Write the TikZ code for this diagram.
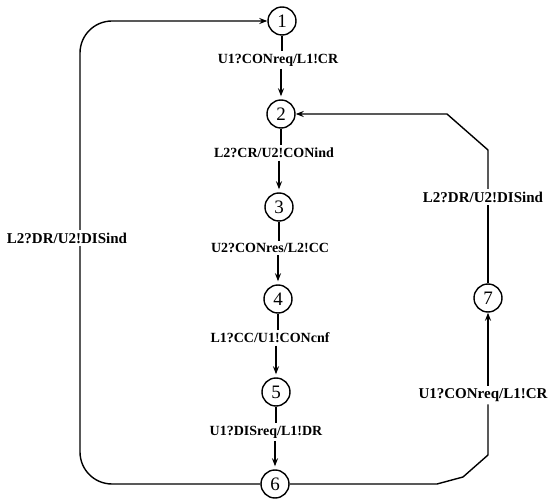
\documentclass[tikz,border=0pt]{standalone}
\usepackage{fontspec}
\setmainfont{Liberation Serif}
\usetikzlibrary{arrows.meta}
\begin{document}
\begin{tikzpicture}[x=1pt,y=-1pt,
  state/.style={circle,draw,line width=1.4pt,minimum size=28pt,inner sep=0pt,font=\fontsize{19}{19}\selectfont},
  lab/.style={inner sep=2.5pt,font=\bfseries\fontsize{14}{15}\selectfont},
  sidelab/.style={lab,font=\bfseries\fontsize{15}{16}\selectfont},
  edge/.style={line width=1.4pt},
  arr/.style={edge,-{Stealth[length=8pt,width=6pt]}}]
\useasboundingbox (0,0) rectangle (555,500);
\node[state] (n1) at (282,21) {1};
\node[state] (n2) at (281,114) {2};
\node[state] (n3) at (279,207) {3};
\node[state] (n4) at (278,299) {4};
\node[state] (n5) at (276,392) {5};
\node[state] (n6) at (275,484) {6};
\node[state] (n7) at (488,298) {7};
\node[lab] (l12) at (278,60) {U1?CONreq/L1!CR};
\node[lab] (l23) at (274,153) {L2?CR/U2!CONind};
\node[lab] (l34) at (270,248) {U2?CONres/L2!CC};
\node[lab] (l45) at (270,338) {L1?CC/U1!CONcnf};
\node[lab] (l56) at (266,432) {U1?DISreq/L1!DR};
\node[sidelab] (lleft) at (67,238) {L2?DR/U2!DISind};
\node[sidelab] (rup) at (483,197) {L2?DR/U2!DISind};
\node[sidelab] (rlow) at (483,395) {U1?CONreq/L1!CR};
\coordinate (lx) at (80,0);
\coordinate (rx) at (488,0);
\draw[edge] (n1) -- (l12.north -| n1);
\draw[arr,shorten >=3pt] (l12.south -| n2) -- (n2);
\draw[edge] (n2) -- (l23.north -| n2);
\draw[arr,shorten >=3pt] (l23.south -| n3) -- (n3);
\draw[edge] (n3) -- (l34.north -| n3);
\draw[arr,shorten >=3pt] (l34.south -| n4) -- (n4);
\draw[edge] (n4) -- (l45.north -| n4);
\draw[arr,shorten >=3pt] (l45.south -| n5) -- (n5);
\draw[edge] (n5) -- (l56.north -| n5);
\draw[arr,shorten >=3pt] (l56.south -| n6) -- (n6);
\draw[edge,rounded corners=32pt] (n6.west) -| (lleft.south -| lx);
\draw[arr,rounded corners=32pt] (lleft.north -| lx) |- (n1.west);
\draw[edge] (n6.east) -- (437,484) -- (463,477) -- (488,455) -- (rlow.south -| rx);
\draw[arr] (rlow.north -| rx) -- (n7.south);
\draw[edge] (n7.north) -- (rup.south -| rx);
\draw[arr] (rup.north -| rx) -- (488,150) -- (447,114) -- (n2.east);
\end{tikzpicture}
\end{document}
